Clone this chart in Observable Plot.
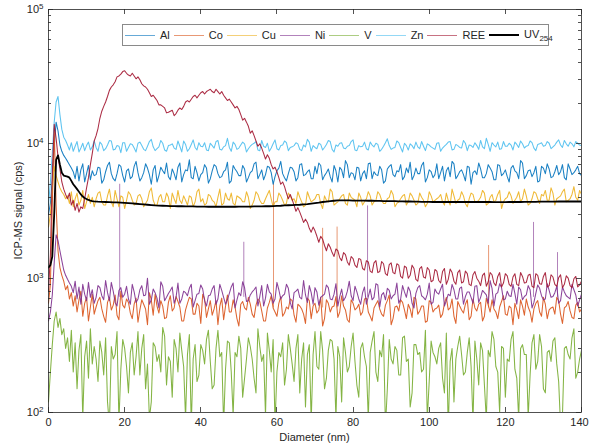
<!DOCTYPE html>
<html>
<head>
<meta charset="utf-8">
<script src="https://cdn.jsdelivr.net/npm/d3@7"></script>
<script src="https://cdn.jsdelivr.net/npm/@observablehq/plot@0.6"></script>
<style>
  body { margin: 0; background: #fff; }
  #wrap { position: relative; width: 589px; height: 447px; font-family: "Liberation Sans", Arial, sans-serif; }
  #legend { position: absolute; left: 122px; top: 24px; width: 427px; height: 22px; box-sizing: border-box;
    border: 1px solid #8a8a8a; background: #fff; display: flex; align-items: center; padding-left: 2px;
    font-size: 11px; color: #262626; }
  .item { display: flex; align-items: center; margin-right: 4px; white-space: nowrap; }
  .swatch { display: inline-block; width: 30px; height: 0; margin-right: 5px; }
  sub { font-size: 8px; vertical-align: -3px; }
</style>
</head>
<body>
<div id="wrap">
  <div id="chart"></div>
  <div id="legend"></div>
</div>
<script>
// ---------- data ----------
const diameter = [0,0.5,1,1.5,2,2.5,3,3.5,4,4.5,5,5.5,6,6.5,7,7.5,8,8.5,9,9.5,10,10.5,11,11.5,12,
13,14,15,16,17,18,19,20,21,22,23,24,25,26,27,28,29,30,31,32,33,34,35,36,37,38,39,40,41,42,
43,44,45,46,47,48,49,50,51,52,53,54,55,56,57,58,59,60,61,62,63,64,65,66,67,68,69,70,71,72,
73,74,75,76,77,78,79,80,81,82,83,84,85,86,87,88,89,90,91,92,93,94,95,96,97,98,99,100,101,102,
103,104,105,106,107,108,109,110,111,112,113,114,115,116,117,118,119,120,121,122,123,124,125,126,127,128,129,130,131,132,
133,134,135,136,137,138,139,140];
// half-step samples between the points above
const diameterMid = [12.5,13.5,14.5,15.5,16.5,17.5,18.5,19.5,20.5,21.5,22.5,23.5,24.5,25.5,26.5,27.5,28.5,29.5,30.5,31.5,
32.5,33.5,34.5,35.5,36.5,37.5,38.5,39.5,40.5,41.5,42.5,43.5,44.5,45.5,46.5,47.5,48.5,49.5,50.5,51.5,
52.5,53.5,54.5,55.5,56.5,57.5,58.5,59.5,60.5,61.5,62.5,63.5,64.5,65.5,66.5,67.5,68.5,69.5,70.5,71.5,
72.5,73.5,74.5,75.5,76.5,77.5,78.5,79.5,80.5,81.5,82.5,83.5,84.5,85.5,86.5,87.5,88.5,89.5,90.5,91.5,
92.5,93.5,94.5,95.5,96.5,97.5,98.5,99.5,100.5,101.5,102.5,103.5,104.5,105.5,106.5,107.5,108.5,109.5,110.5,111.5,
112.5,113.5,114.5,115.5,116.5,117.5,118.5,119.5,120.5,121.5,122.5,123.5,124.5,125.5,126.5,127.5,128.5,129.5,130.5,131.5,
132.5,133.5,134.5,135.5,136.5,137.5,138.5,139.5];

const seriesNames = ["Al","Co","Cu","Ni","V","Zn","REE"];
const seriesColors = ["#0072BD","#D95319","#EDB120","#7E2F8E","#77AC30","#4DBEEE","#A2142F"];

const Al = [3000,3600,5500,9500,14500,12500,9800,8800,8200,7800,7400,7000,6600,
6200,5500,6800,5300,6400,7100,5200,6000,6900,5400,6300,5800,
6700,5100,6200,7300,5500,6000,6800,5200,6500,5700,
7400,5300,6100,6600,5000,6900,5800,6300,7200,5400,
6000,6700,5200,6400,7600,5500,6100,5900,7000,5100,
6300,6800,5600,6200,7300,5300,6500,5800,6900,5200,
6100,7100,5500,6400,5900,6700,5000,6300,7400,5600,
6000,6600,5300,7000,5800,6200,5500,6800,7200,5400,
6100,5700,6900,5200,6400,7500,5600,6000,6700,5300,
6300,7100,5500,5900,6800,5100,6500,7000,5700,6200,
5400,6600,7300,5800,6000,6900,5200,6400,5600,7100,
6100,5300,6700,7400,5500,6200,5900,6800,5000,6300,
7200,5600,6000,6600,5400,7000,5800,6400,5200,6900,
6100,7500,5500,6300,5700,6800,5300,6600,7100,5600,
6200,5900,7000,5400,6500,6100,6800,5800];
const AlMid = [5900,6600,5400,6900,6000,5300,7000,5800,6300,5500,
6800,6100,5600,7100,5900,6400,5200,6700,6000,5700,
6500,5400,7200,5900,6300,5600,6800,5300,6100,6600,
5500,7000,6000,5700,6400,5100,6900,6200,5800,6500,
5600,6300,7300,5900,5400,6800,6100,5700,6600,6000,
5300,6700,6200,5600,7100,5900,6400,5500,6000,6900,
5800,6500,5200,6300,6700,5600,7000,6100,5400,6600,
6000,5500,7200,6200,5800,6400,5300,6800,5900,6300,
7000,5700,6100,5400,6600,6000,7300,5600,6200,5900,
5500,6800,6300,5700,7100,5800,6400,5300,6700,6100,
5900,6500,5600,7000,6200,5400,6900,6000,5700,6600,
6300,5500,7200,5800,6400,6100,5200,6800,6000,6500,
5700,6900,6200,5600,7100,5900,6400,6000];

const Co = [650,900,3500,13000,3500,1600,1200,1050,950,820,880,
700,780,620,740,560,690,800,520,650,720,480,610,760,540,
680,590,470,720,630,530,800,600,660,500,
710,580,640,450,690,760,550,620,510,740,
600,670,480,580,720,540,650,460,700,590,
530,680,620,490,750,560,610,440,670,580,
640,510,700,570,480,660,600,520,730,550,
590,680,470,620,540,710,500,650,580,440,
690,560,620,510,740,580,470,650,600,530,
700,560,480,640,590,520,680,450,610,570,
660,500,590,720,540,620,470,680,560,600,
510,650,580,700,460,620,550,690,520,600,
640,480,710,560,590,500,670,540,620,450,
580,690,530,610,470,650,560,720,500,600,
540,680,460,620,570,500,660,590];
const CoMid = [610,720,520,660,580,750,490,630,700,550,
640,470,690,590,780,530,620,680,500,660,
570,730,610,480,650,700,540,620,760,510,
680,590,450,710,620,560,690,500,640,600,
720,540,630,670,480,600,740,560,650,520,
610,700,530,640,590,460,680,620,550,720,
500,650,610,730,560,620,490,690,580,640,
560,710,520,600,680,540,630,750,500,620,
690,580,640,510,700,570,620,480,660,590,
630,540,720,600,520,670,580,640,490,700,
570,660,520,630,690,560,610,740,530,600,
650,500,620,700,560,590,680,520,640,580,
610,720,540,600,670,510,630,560];

const Cu = [2400,3000,4600,6800,5800,5200,4700,4400,4200,3900,
4100,3600,4400,3400,3900,4300,3500,3800,4500,3300,3700,4200,3600,4000,3400,
4300,3700,3500,4600,3400,3900,4100,3300,4400,3800,
3600,4200,3400,3800,4700,3500,4000,3700,4300,3300,
3900,4500,3600,3800,4100,3400,4400,3700,3500,4200,
3800,3400,4600,3600,3900,4300,3500,4000,3700,4400,
3300,3800,4200,3600,3900,4500,3400,3700,4100,3500,
4300,3800,3600,4000,3400,4400,3700,3900,4200,3300,
3800,4600,3500,3700,4100,3600,4300,3900,3400,4000,
3700,4400,3500,3800,4200,3600,3900,4500,3400,3700,
4100,3500,4300,3800,3600,4000,3400,4400,3700,3900,
4200,3500,3800,4600,3600,3900,4100,3400,4300,3700,
3800,4500,3500,4000,3700,4200,3300,3900,4400,3600,
4000,3700,4600,3500,3900,4300,3600,4100,3800,4700,
3500,4000,4400,3700,3900,4800,3800,4200];
const CuMid = [3900,4400,3500,4100,3700,4500,3400,4000,3800,4200,
3500,4100,3900,3600,4400,3800,3500,4200,3700,4000,
4300,3600,3800,4100,3500,4000,3700,4600,3900,3600,
4100,3700,4000,3500,4300,3800,3600,4100,3900,3700,
4000,3500,4400,3800,3600,4200,3900,3700,4300,3800,
3600,4100,3900,4400,3700,3500,4000,3800,4200,3600,
4100,3700,4400,3600,3900,4200,3500,4000,3800,4300,
3500,3900,4100,3700,4400,3800,3600,4000,4200,3600,
3900,4200,3700,4100,3500,4300,3800,3600,4100,3800,
4000,3700,4300,3500,4100,3800,4400,3600,3900,4200,
3700,4000,4300,3600,4200,3800,4500,3700,4000,4100,
3800,4400,3900,4100,3600,4400,3900,4200,4500,3800,
4300,3900,4100,4600,3800,4200,4000,4500];

const Ni = [480,560,750,1300,2100,1900,1600,1350,1150,1050,980,920,870,
780,950,700,860,640,900,760,680,930,720,820,650,
880,740,960,680,800,620,850,760,700,900,
660,820,740,1000,690,780,600,870,720,810,
650,920,700,780,840,610,760,890,680,740,
830,640,900,720,690,860,600,780,940,670,
750,820,620,880,710,790,650,930,700,760,
840,590,800,720,960,660,780,850,630,740,
890,700,760,620,830,720,950,680,790,640,
860,730,690,910,610,780,840,700,760,650,
880,720,800,600,850,740,690,920,660,780,
830,620,760,900,700,840,640,790,720,870,
660,810,750,960,620,780,850,700,740,900,
640,820,730,880,600,770,840,690,910,720,
780,650,860,740,700,820,620,760];
const NiMid = [720,850,690,780,930,660,810,720,870,640,
790,700,880,750,640,830,710,940,680,770,
860,720,650,800,740,900,680,770,830,620,
750,880,700,810,640,770,920,690,740,850,
680,790,860,730,620,900,760,700,820,740,
900,660,780,830,700,750,880,640,790,720,
760,850,690,910,730,680,800,740,870,700,
780,640,830,720,890,750,690,810,740,920,
700,790,860,650,770,880,720,760,640,830,
760,900,680,740,820,700,860,730,790,650,
880,720,780,650,840,760,910,690,800,730,
770,860,690,750,820,660,890,740,700,810,
730,870,680,790,720,900,750,690];

const V = [120,200,320,480,560,430,500,380,420,300,
360,240,410,200,330,150,290,380,90,260,340,180,420,230,310,
170,280,360,80,250,400,210,300,140,330,
260,190,380,230,120,310,270,430,160,240,
350,200,290,90,380,250,170,320,230,410,
150,300,260,80,340,200,280,370,130,250,
310,180,420,240,95,290,350,200,260,160,
380,230,300,140,330,270,85,400,210,290,
180,350,250,310,120,280,220,390,160,300,
260,90,340,200,290,380,150,250,310,190,
360,240,110,320,270,200,410,170,280,230,
330,140,75,300,250,370,190,280,220,340,
160,290,88,260,350,200,310,130,240,400,
180,300,270,92,330,210,380,150,280,240,
360,170,95,310,250,420,200,290];
const VMid = [250,340,190,120,310,270,85,350,220,280,
190,400,300,150,90,330,240,200,370,260,
130,300,390,220,270,80,320,190,290,350,
240,160,410,280,210,330,95,260,300,180,
360,250,140,310,270,390,200,82,280,330,
210,300,170,380,250,110,320,270,220,400,
150,290,340,90,260,360,200,310,240,130,
330,220,280,400,170,260,78,350,230,290,
190,370,250,140,320,280,210,90,340,260,
300,180,390,240,120,310,270,200,360,85,
250,330,160,290,400,220,100,300,250,350,
210,90,320,270,190,380,240,310,140,290,
340,230,80,300,270,360,180,250];

const Zn = [3500,5200,8500,14500,20500,22500,16500,12800,11200,10600,
9800,9000,10200,8800,9600,10400,8700,9300,10100,8900,9700,10300,9000,9500,10500,
8800,9900,9200,10600,9000,9700,8600,10200,9400,9900,
8700,10300,9100,9600,10800,8900,9500,10100,8800,9800,
9300,10500,8700,9900,9200,10700,9000,9600,10200,8900,
9700,10400,9100,9500,11000,8800,9900,9300,10300,8700,
9600,10100,9000,10600,9400,8800,10000,9200,9700,10500,
8900,9500,10200,9100,9800,10800,8800,9400,10100,9000,
9900,10400,8700,9600,10200,9200,9700,10700,8900,9500,
10300,9000,9800,10100,8800,9600,10900,9100,9400,10200,
8700,9700,10000,9200,9500,10400,8900,9800,9300,10100,
8800,9600,10300,9000,9900,9400,10600,8900,9700,10200,
9100,9500,11000,8800,9800,10300,9200,9600,10100,9000,
9900,10500,9300,9700,10200,8900,10000,9600,10400,9200,
9800,10700,9400,10000,10300,9500,10100,9700];
const ZnMid = [9400,10300,8900,9800,10500,9100,9600,10200,8800,10000,
9300,10100,9700,8900,10400,9500,9200,10600,9000,9700,
10000,9100,9600,10500,8800,9900,9400,10200,9500,9000,
10100,9300,10600,9000,9700,9400,10300,9100,9800,10000,
9200,9900,10400,8900,9600,10100,9300,10700,9000,9800,
10200,9400,9700,10000,8900,9500,10300,9700,9200,9900,
9400,10600,9100,9800,10100,9300,9600,10400,9000,9700,
9600,9200,10300,9500,9900,9100,10200,9700,9300,10500,
9400,10100,9000,9700,10300,9200,9600,10000,9500,9100,
10200,9300,9900,10400,9100,9700,9300,10100,9800,9400,
9700,10600,9200,9900,10200,9500,9100,10400,9600,9800,
10300,9400,10000,9600,10500,9300,9900,10200,9700,10100,
9500,10300,9800,10600,9600,10000,10400,9800];

const REE = [800,1500,6000,14000,11000,8000,6500,5200,4600,4200,3900,4300,3500,3800,3200,3600,3100,3400,3300,3900,4700,5600,7000,8500,10500,
13000,17500,20500,25000,27500,31500,33000,35000,32500,33500,
30500,30000,27000,25500,22500,22000,19500,19000,17000,17500,
16200,17800,18000,20500,20500,22500,22000,24000,23500,25000,
24500,25500,23500,23000,21000,20500,18500,18000,15000,14500,
12000,11500,9600,9300,7700,7800,6500,6200,5000,4800,
3900,3850,3150,3100,2600,2600,2200,2250,1850,1950,
1600,1700,1450,1600,1350,1500,1250,1400,1200,1380,
1150,1320,1100,1350,1120,1280,1050,1300,1080,1250,
1000,1200,1050,1180,950,1220,1000,1150,960,1130,
920,1180,980,1100,900,1150,940,1080,880,1120,
950,1050,870,1100,920,1030,860,1080,900,1020,
900,1100,920,1050,870,1080,910,1030,860,1060,
900,1010,850,1040,880,990,860,950];
const REEMid = [11500,15500,19000,22500,26500,29000,32000,34500,33500,32000,
32000,31500,28000,26500,24000,23000,21000,19500,18500,17200,
17800,16800,18500,19000,21000,21500,23000,23000,24500,24500,
25500,24000,24500,24500,22000,21500,19500,19000,16500,15500,
13500,12500,10500,10000,8500,8300,7000,6700,5600,5200,
4300,4200,3500,3350,2850,2750,2350,2400,2050,2050,
1750,1800,1550,1650,1420,1550,1320,1450,1250,1400,
1180,1350,1130,1300,1100,1330,1080,1260,1100,1280,
1030,1230,1000,1250,980,1180,1020,1200,940,1160,
960,1120,900,1170,950,1100,920,1130,900,1060,
1000,880,1090,940,1060,880,1100,920,1040,870,
1080,880,1030,930,1070,850,1050,900,1100,880,
1020,870,1060,900,1000,850,1030,890];

const UV254 = [1200,1250,1450,3000,7600,8200,7000,6100,5800,5750,5700,5600,5300,5000,4800,4600,4400,4200,4050,3950,3880,3820,3780,3750,3730,
3710,3700,3690,3680,3670,3660,3650,3640,3620,3600,
3580,3560,3540,3520,3500,3480,3470,3460,3450,3440,
3440,3430,3430,3420,3420,3420,3410,3410,3410,3400,
3400,3400,3400,3400,3400,3400,3400,3410,3410,3410,
3410,3420,3420,3420,3430,3430,3440,3450,3460,3480,
3490,3500,3510,3520,3540,3560,3590,3620,3650,3690,
3720,3750,3770,3790,3790,3790,3790,3780,3780,3780,
3780,3770,3770,3760,3760,3750,3750,3740,3740,3730,
3730,3720,3720,3710,3710,3700,3700,3700,3690,3690,
3690,3690,3690,3690,3690,3690,3690,3690,3690,3690,
3690,3690,3690,3690,3680,3680,3680,3680,3690,3690,
3690,3690,3700,3700,3700,3700,3710,3710,3710,3710,
3710,3720,3720,3720,3720,3720,3720,3720];

// isolated single-sample spikes
const spikeSeries = ["Ni","Ni","Ni","Ni","Ni","Co","Co","Co","Co","REE"];
const spikeX      = [18.7, 51.3, 83.8, 127.4, 133.7, 59.1, 72.0, 75.8, 115.6, 140];
const spikeLow    = [720, 720, 720, 720, 720, 600, 600, 600, 600, 10];
const spikeHigh   = [5000, 1850, 3450, 2600, 1550, 5100, 2350, 2400, 1750, 1000000];

const xTicks = [0,20,40,60,80,100,120,140];
const yMajor = [100,1000,10000,100000];
const yMinor = [200,300,400,500,600,700,800,900,2000,3000,4000,5000,6000,7000,8000,9000,
                20000,30000,40000,50000,60000,70000,80000,90000];

// ---------- build tables ----------
const seriesValues = [Al, Co, Cu, Ni, V, Zn, REE];
const seriesMid = [AlMid, CoMid, CuMid, NiMid, VMid, ZnMid, REEMid];
seriesValues.forEach((arr, k) => { if (arr.length !== diameter.length) throw new Error(seriesNames[k] + " length " + arr.length); });
seriesMid.forEach((arr, k) => { if (arr.length !== diameterMid.length) throw new Error(seriesNames[k] + " mid length " + arr.length); });
if (UV254.length !== diameter.length) throw new Error("UV length " + UV254.length);

const rows = [];
seriesNames.forEach((name, k) => {
  const pts = diameter.map((d, i) => ({series: name, x: d, y: seriesValues[k][i]}))
    .concat(diameterMid.map((d, i) => ({series: name, x: d, y: seriesMid[k][i]})));
  pts.sort((a, b) => a.x - b.x);
  rows.push(...pts);
});
const uvRows = diameter.map((d, i) => ({x: d, y: UV254[i]}));
const spikes = spikeX.map((x, i) => ({series: spikeSeries[i], x, y1: spikeLow[i], y2: spikeHigh[i]}));

// ---------- plot ----------
const chart = Plot.plot({
  width: 589, height: 447,
  marginLeft: 48, marginRight: 8, marginTop: 9, marginBottom: 35,
  style: {fontFamily: "'Liberation Sans', Arial, sans-serif", fontSize: "11px", color: "#262626", background: "#fff", overflow: "visible"},
  x: {domain: [0, 140]},
  y: {type: "log", domain: [100, 100000]},
  color: {domain: seriesNames, range: seriesColors},
  marks: [
    Plot.ruleX(spikes, {x: "x", y1: "y1", y2: "y2", stroke: "series", strokeOpacity: 0.6, strokeWidth: 1, clip: true}),
    Plot.line(rows, {x: "x", y: "y", z: "series", stroke: "series", strokeWidth: 1.05, strokeOpacity: 0.9, clip: true}),
    Plot.line(uvRows, {x: "x", y: "y", stroke: "black", strokeWidth: 1.8, clip: true}),
    Plot.frame({stroke: "#262626", strokeWidth: 0.8}),
    Plot.axisX({ticks: xTicks, tickSize: 0, tickPadding: 6, label: null}),
    Plot.axisY({ticks: yMajor, tickSize: 0, tickPadding: 5, label: null, tickFormat: d => "10^" + Math.round(Math.log10(d))})
  ]
});
document.getElementById("chart").appendChild(chart);

// keep the last x tick label inside the picture
const xLabels = d3.select(chart).selectAll('g[aria-label="x-axis tick label"] text');
xLabels.filter(function () { return d3.select(this).text() === "140"; }).attr("dx", -2);

// superscript exponents on the log-axis labels
d3.select(chart).selectAll('g[aria-label="y-axis tick label"] text').each(function () {
  const t = d3.select(this);
  const s = t.text();
  if (!s.includes("^")) return;
  const [b, e] = s.split("^");
  t.text(null);
  t.append("tspan").text(b);
  t.append("tspan").attr("dy", "-0.5em").style("font-size", "8px").text(e);
});

// inward ticks on all four sides, positioned with the plot's own scales
const xs = chart.scale("x"), ys = chart.scale("y");
const [L, R] = xs.range, [B, T] = ys.range;
const tg = d3.select(chart).append("g").attr("stroke", "#262626").attr("stroke-width", 0.8);
xTicks.forEach(v => {
  const p = Math.round(xs.apply(v)) + 0.5;
  tg.append("line").attr("x1", p).attr("x2", p).attr("y1", B).attr("y2", B - 5);
  tg.append("line").attr("x1", p).attr("x2", p).attr("y1", T).attr("y2", T + 5);
});
[[yMajor, 5], [yMinor, 3]].forEach(([vals, len]) => vals.forEach(v => {
  const p = Math.round(ys.apply(v)) + 0.5;
  tg.append("line").attr("y1", p).attr("y2", p).attr("x1", L).attr("x2", L + len);
  tg.append("line").attr("y1", p).attr("y2", p).attr("x1", R).attr("x2", R - len);
}));

// axis titles
const svg = d3.select(chart);
svg.append("text").attr("x", (L + R) / 2).attr("y", 441).attr("text-anchor", "middle")
  .attr("fill", "#262626").style("font-size", "11px").text("Diameter (nm)");
svg.append("text").attr("transform", `translate(18,${(T + B) / 2}) rotate(-90)`).attr("text-anchor", "middle")
  .attr("dy", "0.35em").attr("fill", "#262626").style("font-size", "11px").text("ICP-MS signal (cps)");

// legend
const legend = d3.select("#legend");
seriesNames.forEach((name, k) => {
  const it = legend.append("div").attr("class", "item");
  it.append("span").attr("class", "swatch").style("border-top", `1px solid ${seriesColors[k]}`).style("opacity", 0.6);
  it.append("span").text(name);
});
const uvItem = legend.append("div").attr("class", "item");
uvItem.append("span").attr("class", "swatch").style("border-top", "2px solid #000");
uvItem.append("span").html("UV<sub>254</sub>");
</script>
</body>
</html>
